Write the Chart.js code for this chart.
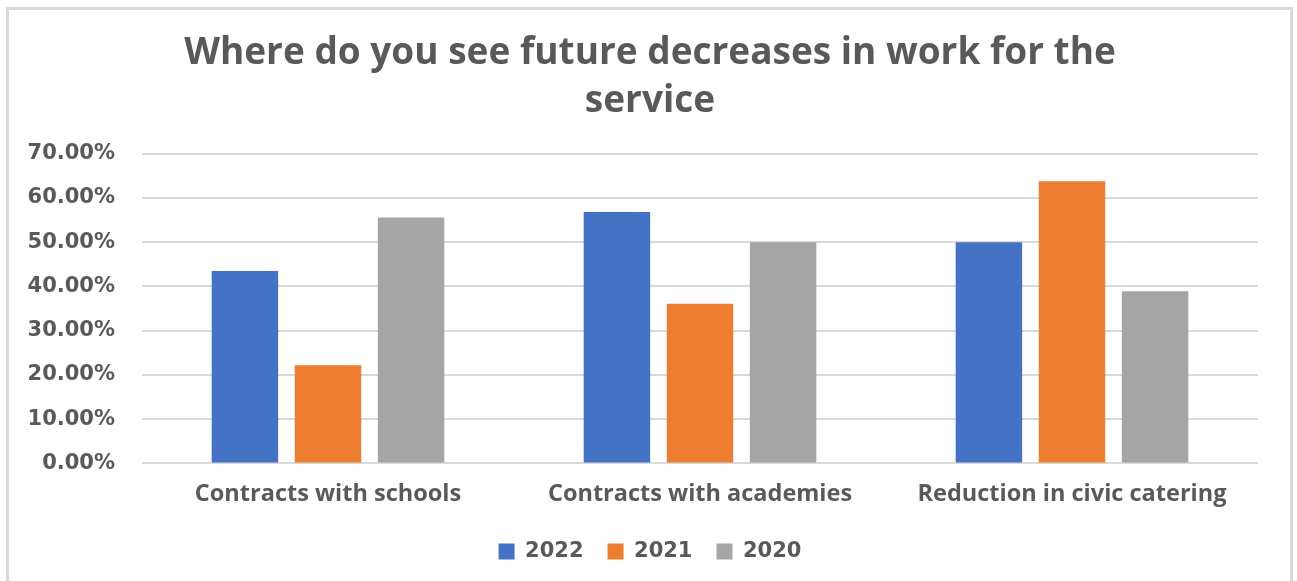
<!DOCTYPE html>
<html>
<head>
<meta charset="utf-8">
<script src="https://cdn.jsdelivr.net/npm/chart.js@4"></script>
<style>
  body { margin: 0; background: #fff; }
  #frame {
    position: absolute; left: 6px; top: 7px;
    width: 1281px; height: 580px;
    border: 3px solid #d9d9d9; border-bottom: none;
  }
  #chartBox { position: absolute; left: 0; top: 0; width: 1281px; height: 571px; }
</style>
</head>
<body>
<div id="frame"><div id="chartBox"><canvas id="myChart"></canvas></div></div>
<script>
const categories = ['Contracts with schools', 'Contracts with academies', 'Reduction in civic catering'];
const years = ['2022', '2021', '2020'];
const values2022 = [43.5, 56.8, 50.0];
const values2021 = [22.2, 36.1, 63.8];
const values2020 = [55.6, 50.0, 38.9];
const colors = ['#4472c4', '#ed7d31', '#a5a5a5'];

const textColor = '#595959';
const ctx = document.querySelector('#myChart').getContext('2d');

const chartData = {
  labels: categories,
  datasets: [values2022, values2021, values2020].map((data, i) => ({
    label: years[i],
    data,
    backgroundColor: colors[i],
    categoryPercentage: 0.67,
    barPercentage: 0.8
  }))
};

new Chart(ctx, {
  type: 'bar',
  data: chartData,
  options: {
    responsive: true,
    maintainAspectRatio: false,
    animation: false,
    layout: { padding: { left: 18, right: 17, top: 7, bottom: 9 } },
    scales: {
      x: {
        grid: { display: false },
        border: { display: false },
        ticks: {
          color: textColor,
          font: { family: 'Open Sans', size: 23.5, weight: '700', lineHeight: 0.75 },
          padding: 14
        }
      },
      y: {
        min: 0,
        max: 70,
        afterFit: scale => { scale.width = 115; },
        grid: { color: '#d9d9d9', lineWidth: 2, drawTicks: false },
        border: { display: false },
        ticks: {
          stepSize: 10,
          color: textColor,
          padding: 27,
          font: { family: 'DejaVu Sans', size: 21, weight: 'bold' },
          callback: v => v.toFixed(2) + '%'
        }
      },
      // empty right-hand gutter, keeps the title centred on the frame
      gutter: {
        position: 'right',
        afterFit: scale => { scale.width = 15; },
        grid: { display: false },
        border: { display: false },
        ticks: { display: false }
      }
    },
    plugins: {
      title: {
        display: true,
        text: ['Where do you see future decreases in work for the', 'service'],
        color: textColor,
        font: { family: 'Open Sans', size: 37, weight: '700', lineHeight: 1.28 },
        padding: { top: 13, bottom: 29 }
      },
      legend: {
        position: 'bottom',
        labels: {
          color: textColor,
          boxWidth: 16,
          boxHeight: 16,
          padding: 24,
          font: { family: 'DejaVu Sans', size: 21, weight: 'bold' }
        }
      },
      tooltip: { enabled: false }
    }
  }
});
</script>
</body>
</html>
